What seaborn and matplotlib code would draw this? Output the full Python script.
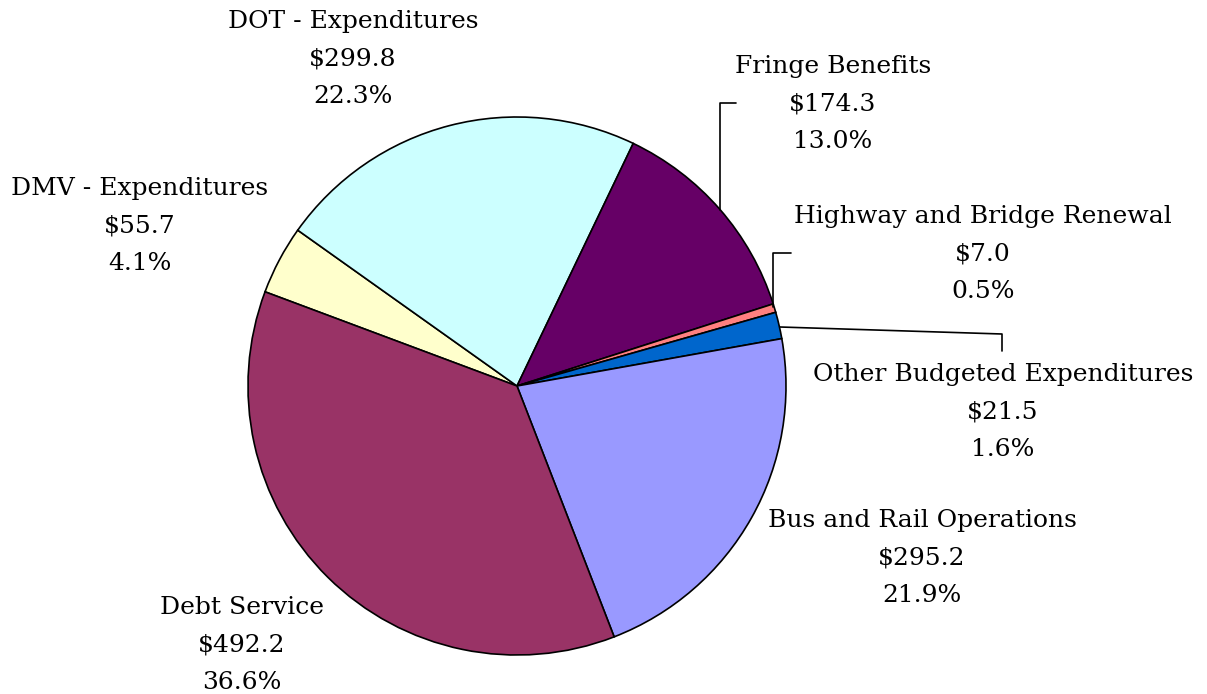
import matplotlib
matplotlib.use("Agg")
import matplotlib.pyplot as plt
import seaborn as sns

# budget categories in $ millions, clockwise from the DMV slice
categories = ["DMV - Expenditures", "DOT - Expenditures", "Fringe Benefits",
              "Highway and Bridge Renewal", "Other Budgeted Expenditures",
              "Bus and Rail Operations", "Debt Service"]
amounts = [55.7, 299.8, 174.3, 7.0, 21.5, 295.2, 492.2]
colors = ["#FFFFCC", "#CCFFFF", "#660066", "#FF8080", "#0066CC", "#9999FF", "#993366"]

# label centres (pixels in the 1207x694 image)
label_px = [(140, 226), (353, 59), (833, 104), (983, 254), (1003, 412), (922, 558), (242, 645)]

sns.set_style("white")
plt.rcParams["font.family"] = ["DejaVu Serif"]

W, H = 1207, 694
cx, cy, R = 517, 386, 269

fig = plt.figure(figsize=(W / 100, H / 100), dpi=100)
ax = fig.add_axes([0, 0, 1, 1])


def px(x, y):
    return (x - cx) / R, (cy - y) / R


ax.pie(amounts, colors=colors, startangle=159.5, counterclock=False,
       radius=1, center=(0, 0), frame=True,
       wedgeprops=dict(edgecolor="black", linewidth=1.2))
ax.set_xlim(-cx / R, (W - cx) / R)
ax.set_ylim(-(H - cy) / R, cy / R)
ax.set_aspect("auto")
ax.axis("off")

total = sum(amounts)
for name, val, (lx, ly) in zip(categories, amounts, label_px):
    x, y = px(lx, ly)
    ax.text(x, y, f"{name}\n${val:.1f}\n{val / total * 100:.1f}%",
            ha="center", va="center", fontsize=18, linespacing=1.78,
            color="black")

# leader lines
leaders = [
    [(720, 210), (720, 103), (736, 103)],
    [(773, 307), (773, 253), (791, 253)],
    [(780, 327), (1002, 334), (1002, 351)],
]
for pts in leaders:
    xs, ys = zip(*[px(a, b) for a, b in pts])
    ax.plot(xs, ys, color="black", linewidth=1.2)

fig.savefig("out.png", dpi=100)
